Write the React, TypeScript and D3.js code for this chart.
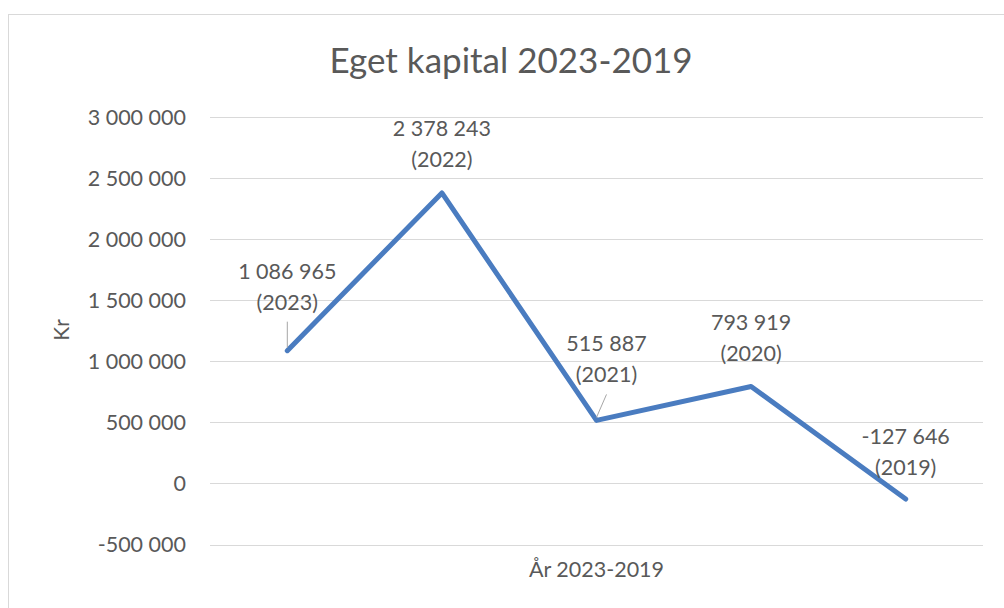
import React, { useEffect, useRef } from 'react';
import * as d3 from 'd3';

const years = ['2023', '2022', '2021', '2020', '2019'];
const equity = [1086965, 2378243, 515887, 793919, -127646];
const yTicks = [-500000, 0, 500000, 1000000, 1500000, 2000000, 2500000, 3000000];
// hand-placed label offsets (px), like Excel's dragged data labels
const labelShift = [
  { dx: 0, dy: -72, leader: true },
  { dx: 0, dy: -57, leader: false },
  { dx: 10, dy: -69, leader: true },
  { dx: 0, dy: -56, leader: false },
  { dx: 0, dy: -55, leader: false },
];

const W = 1004;
const H = 608;
const FONT = 'Lato, "Open Sans", sans-serif';
const TEXT = '#595959';

const fmt = (v: number) => {
  const s = d3.format(',')(Math.abs(v)).replace(/,/g, ' ');
  return (v < 0 ? '-' : '') + s;
};

export default function App() {
  const ref = useRef<SVGSVGElement>(null);

  useEffect(() => {
    const svg = d3.select(ref.current);
    svg.selectAll('*').remove();

    const left = 210, right = 983;

    const x = d3.scaleBand().domain(years).range([left, right]);
    const y = d3.scaleLinear().domain([-500000, 3000000]).range([544.5, 117]);
    const cx = (d: string) => (x(d) as number) + x.bandwidth() / 2;

    const pts = equity.map((v, i) => ({ v, i, year: years[i], ...labelShift[i] }));

    // chart frame
    svg.append('rect')
      .attr('x', 8.5).attr('y', 14.5)
      .attr('width', W + 20).attr('height', H + 20)
      .attr('fill', 'white')
      .attr('stroke', '#d9d9d9');

    svg.append('text')
      .attr('x', 511).attr('y', 73)
      .attr('text-anchor', 'middle')
      .attr('font-family', FONT)
      .attr('font-size', 35)
      .attr('fill', TEXT)
      .text('Eget kapital 2023-2019');

    svg.selectAll('.grid')
      .data(yTicks)
      .enter()
      .append('line')
      .attr('class', 'grid')
      .attr('x1', left).attr('x2', right)
      .attr('y1', d => Math.round(y(d)) + 0.5)
      .attr('y2', d => Math.round(y(d)) + 0.5)
      .attr('stroke', '#d9d9d9')
      .attr('stroke-width', 1);

    svg.selectAll('.ytick')
      .data(yTicks)
      .enter()
      .append('text')
      .attr('class', 'ytick')
      .attr('x', 186)
      .attr('y', d => y(d))
      .attr('dy', '0.36em')
      .attr('text-anchor', 'end')
      .attr('font-family', FONT)
      .attr('font-size', 21.5)
      .attr('fill', TEXT)
      .text(d => fmt(d));

    svg.append('text')
      .attr('transform', 'translate(69,330) rotate(-90)')
      .attr('text-anchor', 'middle')
      .attr('font-family', FONT)
      .attr('font-size', 21)
      .attr('fill', TEXT)
      .text('Kr');

    svg.append('text')
      .attr('x', (left + right) / 2).attr('y', 577)
      .attr('text-anchor', 'middle')
      .attr('font-family', FONT)
      .attr('font-size', 21.5)
      .attr('fill', TEXT)
      .text('År 2023-2019');

    const line = d3.line<number>()
      .x((_, i) => cx(years[i]))
      .y(d => y(d));

    svg.append('path')
      .datum(equity)
      .attr('d', line)
      .attr('fill', 'none')
      .attr('stroke', '#4a7cc0')
      .attr('stroke-width', 5)
      .attr('stroke-linejoin', 'round')
      .attr('stroke-linecap', 'round');

    svg.selectAll('.leader')
      .data(pts.filter(p => p.leader))
      .enter()
      .append('line')
      .attr('class', 'leader')
      .attr('x1', p => cx(p.year) + p.dx)
      .attr('y1', p => y(p.v) + p.dy + 43)
      .attr('x2', p => cx(p.year))
      .attr('y2', p => y(p.v) - 3)
      .attr('stroke', '#a6a6a6')
      .attr('stroke-width', 1);

    const labels = svg.selectAll('.lbl')
      .data(pts)
      .enter()
      .append('g')
      .attr('class', 'lbl')
      .attr('font-family', FONT)
      .attr('font-size', 21.5)
      .attr('fill', TEXT)
      .attr('text-anchor', 'middle');

    labels.append('text')
      .attr('x', p => cx(p.year) + p.dx)
      .attr('y', p => y(p.v) + p.dy)
      .text(p => fmt(p.v));

    labels.append('text')
      .attr('x', p => cx(p.year) + p.dx)
      .attr('y', p => y(p.v) + p.dy + 31)
      .text(p => `(${p.year})`);
  }, []);

  return (
    <svg
      ref={ref}
      width={W}
      height={H}
      viewBox={`0 0 ${W} ${H}`}
      style={{ position: 'absolute', left: 0, top: 0, background: 'white' }}
    />
  );
}
